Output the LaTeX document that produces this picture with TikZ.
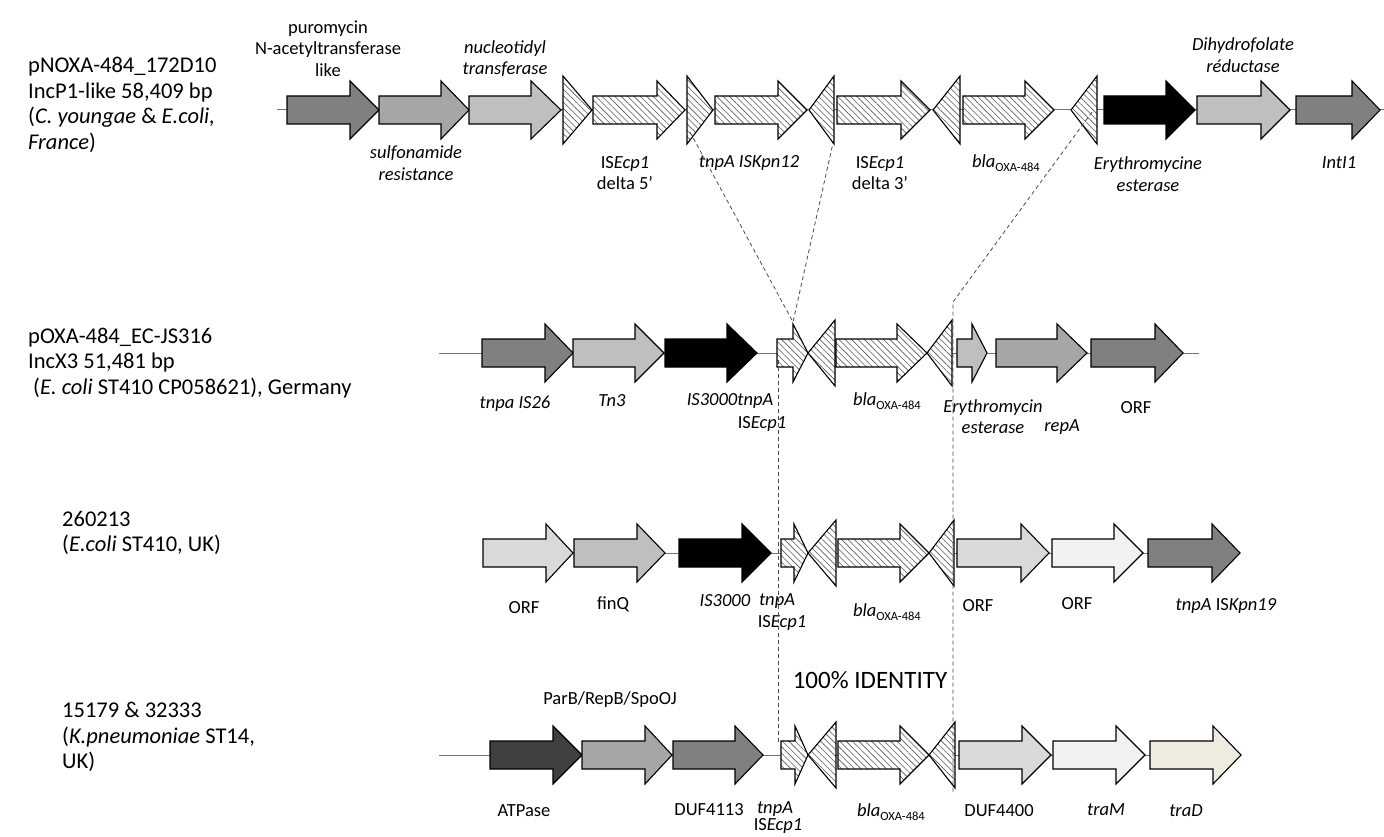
\documentclass[tikz,border=0pt]{standalone}
\usepackage{fontspec}
\setmainfont{Carlito}
\usepackage{tikz}
\usetikzlibrary{patterns.meta}

\definecolor{gene40}{HTML}{404040}
\definecolor{gene80}{HTML}{808080}
\definecolor{geneA6}{HTML}{A6A6A6}
\definecolor{geneBF}{HTML}{BFBFBF}
\definecolor{geneD9}{HTML}{D9D9D9}
\definecolor{geneF2}{HTML}{F2F2F2}
\definecolor{geneEE}{HTML}{EEECE1}

% #1 fill, #2 start, #3 head base, #4 tip, #5 row
\newcommand{\genearrow}[5]{\draw[gene,#1] (#2,#5-14) -- (#3,#5-14) -- (#3,#5-29) -- (#4,#5) -- (#3,#5+29) -- (#3,#5+14) -- (#2,#5+14) -- cycle;}
% #1 base, #2 tip, #3 row, #4 half height
\newcommand{\irtri}[4]{\draw[gene,hatch] (#1,#3-#4) -- (#2,#3) -- (#1,#3+#4) -- cycle;}
\newcommand{\blaoxa}{\textit{bla}\raisebox{-0.25em}{\fontsize{12.5}{14}\selectfont OXA-484}}

\begin{document}
\begin{tikzpicture}[x=1pt,y=-1pt,
  gene/.style={draw=black,line width=1.1pt},
  hatch/.style={preaction={fill=white},pattern={Lines[angle=-45,distance=4.5pt,line width=0.6pt]},pattern color=black!65},
  backbone/.style={draw=black!55,line width=1pt},
  lbl/.style={font=\fontsize{18.5}{21.5}\selectfont,align=center,inner sep=0pt},
  strain/.style={font=\fontsize{22.5}{25.5}\selectfont,align=left,anchor=west,inner sep=0pt},
  ident/.style={draw=black!70,line width=0.8pt,dash pattern=on 4pt off 3pt}]
\path[use as bounding box,fill=white] (0,0) rectangle (1384,837);

\draw[backbone] (277,110) -- (1384,110);
\draw[backbone] (439,353) -- (1199,353);
\draw[backbone] (483,553) -- (1240,553);
\draw[backbone] (439,755) -- (1241,755);

%% pNOXA-484_172D10
\genearrow{fill=gene80}{287}{350}{379}{110}
\genearrow{fill=geneA6}{379}{441}{469}{110}
\genearrow{fill=geneBF}{469}{531}{561}{110}
\irtri{563}{592}{110}{34}
\genearrow{hatch}{593}{657}{685}{110}
\irtri{687}{713}{110}{34}
\genearrow{hatch}{715}{778}{807}{110}
\irtri{834}{809}{110}{34}
\genearrow{hatch}{837}{901}{930}{110}
\irtri{960}{933}{110}{34}
\genearrow{hatch}{963}{1025}{1054}{110}
\irtri{1097}{1071}{110}{34}
\genearrow{fill=black}{1104}{1166}{1195}{110}
\genearrow{fill=geneBF}{1197}{1261}{1290}{110}
\genearrow{fill=gene80}{1296}{1352}{1380}{110}

%% pOXA-484_EC-JS316
\genearrow{fill=gene80}{482}{545}{573}{353}
\genearrow{fill=geneBF}{573}{635}{664}{353}
\genearrow{fill=black}{665}{727}{757}{353}
\genearrow{hatch}{777}{793}{808}{353}
\irtri{835}{808}{353}{33}
\genearrow{hatch}{836}{897}{927}{353}
\irtri{952}{927}{353}{33}
\genearrow{fill=geneBF}{957}{972}{987}{353}
\genearrow{fill=geneA6}{996}{1057}{1087}{353}
\genearrow{fill=gene80}{1091}{1155}{1183}{353}

%% 260213
\genearrow{fill=geneD9}{483}{546}{573}{553}
\genearrow{fill=geneBF}{574}{637}{665}{553}
\genearrow{fill=black}{679}{742}{771}{553}
\genearrow{hatch}{781}{794}{808}{553}
\irtri{836}{808}{553}{33}
\genearrow{hatch}{838}{900}{929}{553}
\irtri{954}{929}{553}{33}
\genearrow{fill=geneD9}{957}{1021}{1049}{553}
\genearrow{fill=geneF2}{1052}{1114}{1143}{553}
\genearrow{fill=gene80}{1148}{1212}{1240}{553}

%% 15179 & 32333
\genearrow{fill=gene40}{490}{553}{582}{755}
\genearrow{fill=geneA6}{582}{645}{672}{755}
\genearrow{fill=gene80}{673}{735}{763}{755}
\genearrow{hatch}{781}{795}{808}{755}
\irtri{836}{808}{755}{33}
\genearrow{hatch}{838}{900}{929}{755}
\irtri{955}{929}{755}{33}
\genearrow{fill=geneD9}{959}{1022}{1051}{755}
\genearrow{fill=geneF2}{1053}{1116}{1145}{755}
\genearrow{fill=geneEE}{1150}{1213}{1241}{755}

%% strains
\node[strain] (s-noxa) at (28,105) {pNOXA-484\_172D10\\IncP1-like 58,409 bp\\(\textit{C. youngae} \& \textit{E.coli,}\\\textit{France})};
\node[strain] (s-poxa) at (28,363) {pOXA-484\_EC-JS316\\IncX3 51,481 bp\\\hspace*{5pt}(\textit{E. coli} ST410 CP058621), Germany};
\node[strain] (s-2602) at (62,533) {260213\\(\textit{E.coli} ST410, UK)};
\node[strain] (s-1517) at (62,737) {15179 \& 32333\\(\textit{K.pneumoniae} ST14,\\UK)};

%% labels row 1
\node[lbl] (l-puro) at (328,48.5) {puromycin\\N-acetyltransferase\\like};
\node[lbl] (l-nucl) at (505,58.5) {\textit{nucleotidyl}\\\textit{transferase}};
\node[lbl] (l-sulf) at (416,163) {\textit{sulfonamide}\\\textit{resistance}};
\node[lbl] (l-ecp5) at (625,173) {IS\textit{Ecp1}\\delta 5'};
\node[lbl] (l-k12) at (749,163) {\textit{tnpA ISKpn12}};
\node[lbl] (l-ecp3) at (880,173) {IS\textit{Ecp1}\\delta 3'};
\node[lbl] (l-bla1) at (1006,163) {\blaoxa};
\node[lbl] (l-ery1) at (1148,174) {\textit{Erythromycine}\\\textit{esterase}};
\node[lbl] (l-dhfr) at (1243,55) {\textit{Dihydrofolate}\\\textit{réductase}};
\node[lbl] (l-int) at (1339,163) {\textit{IntI1}};

%% labels row 2
\node[lbl] (l-is26) at (515,404) {\textit{tnpa IS26}};
\node[lbl] (l-tn3) at (612,401) {\textit{Tn3}};
\node[lbl] (l-is30a) at (730,401) {\textit{IS3000tnpA}};
\node[lbl] (l-ecpa) at (762,424) {IS\textit{Ecp1}};
\node[lbl] (l-bla2) at (887,401) {\blaoxa};
\node[lbl] (l-ery2) at (993,416.5) {\textit{Erythromycin}\\\textit{esterase}};
\node[lbl] (l-repa) at (1062,427) {\textit{repA}};
\node[lbl] (l-orf2) at (1136,408) {ORF};

%% labels row 3
\node[lbl] (l-orf3a) at (524,608) {ORF};
\node[lbl] (l-finq) at (613,604) {finQ};
\node[lbl] (l-is30b) at (725,601) {\textit{IS3000}};
\node[lbl] (l-tnpb) at (777,601) {\textit{tnpA}};
\node[lbl] (l-ecpb) at (782,623) {IS\textit{Ecp1}};
\node[lbl] (l-bla3) at (887,612) {\blaoxa};
\node[lbl] (l-orf3b) at (978,606) {ORF};
\node[lbl] (l-orf3c) at (1077,604) {ORF};
\node[lbl] (l-k19) at (1226,606) {\textit{tnpA} IS\textit{Kpn19}};

%% labels row 4
\node[lbl] (l-parb) at (610,700) {ParB/RepB/SpoOJ};
\node[lbl,font=\fontsize{25}{29}\selectfont] (l-ident) at (870,680) {100\% IDENTITY};
\node[lbl] (l-atp) at (524,811) {ATPase};
\node[lbl] (l-duf1) at (709,810) {DUF4113};
\node[lbl] (l-tnpc) at (775,809) {\textit{tnpA}};
\node[lbl] (l-ecpc) at (778,826) {IS\textit{Ecp1}};
\node[lbl] (l-bla4) at (891,812) {\blaoxa};
\node[lbl] (l-duf2) at (999,811) {DUF4400};
\node[lbl] (l-tram) at (1106,810) {\textit{traM}};
\node[lbl] (l-trad) at (1186,811) {\textit{traD}};

%% identity lines
\coordinate (k12l) at (690,132);
\coordinate (k12r) at (833,143);
\coordinate (ins) at (793,322);
\coordinate (oxr) at (1092,112);
\coordinate (oxk) at (953,302);
\coordinate (oxb) at (953,792);
\coordinate (ecpt) at (778,360);
\coordinate (ecpb) at (778,742);
\draw[ident] (k12l) -- (ins) -- (k12r);
\draw[ident] (oxr) -- (oxk) -- (oxb);
\draw[ident] (ecpt) -- (ecpb);
\end{tikzpicture}
\end{document}
